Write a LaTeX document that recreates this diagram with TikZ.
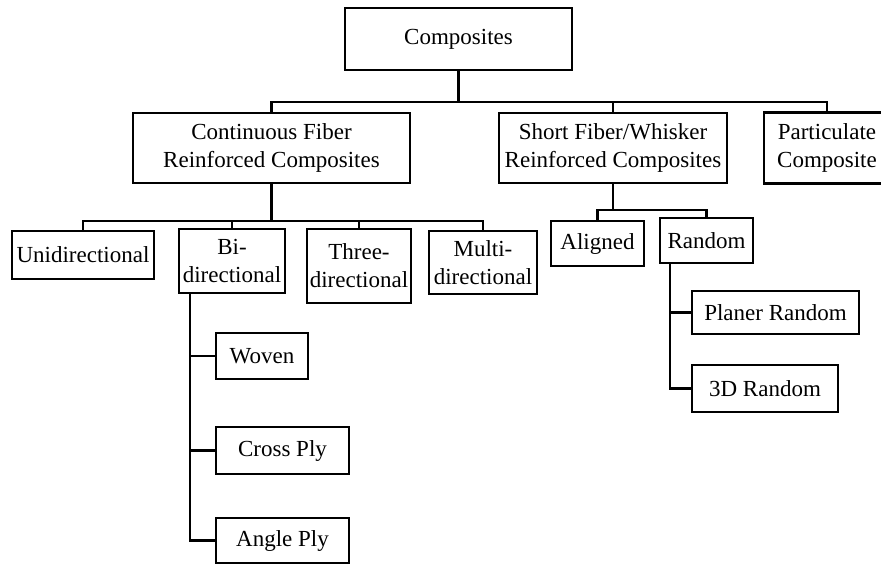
\documentclass[tikz,border=0pt]{standalone}
\usepackage{fontspec}
\setmainfont{Liberation Serif}
\begin{document}
\begin{tikzpicture}[x=1pt,y=-1pt,
  box/.style={draw=black, line width=2.7pt, fill=white, inner sep=0pt, align=center,
    font=\fontsize{23}{28}\selectfont},
  conn/.style={draw=black, line width=2.6pt, line cap=rect}]
\useasboundingbox[fill=white] (0,0) rectangle (881,565);
% level 0
\node[box, minimum width=227pt, minimum height=62pt] (comp) at (458.5,39) {Composites};
% level 1
\node[box, minimum width=277pt, minimum height=70pt] (cont) at (271.5,148) {Continuous Fiber\\Reinforced Composites};
\node[box, minimum width=228pt, minimum height=70pt] (short) at (613,148) {Short Fiber/Whisker\\Reinforced Composites};
\node[box, minimum width=126pt, minimum height=71pt] (part) at (827,148) {Particulate\\Composite};
% level 2 (continuous)
\node[box, minimum width=142pt, minimum height=48pt] (uni) at (83,255) {Unidirectional};
\node[box, minimum width=106pt, minimum height=64pt] (bi) at (232,261) {Bi-\\directional};
\node[box, minimum width=104pt, minimum height=74pt] (three) at (359,266) {Three-\\directional};
\node[box, minimum width=108pt, minimum height=63pt] (multi) at (483,262.5) {Multi-\\directional};
% level 2 (short fiber)
\node[box, minimum width=93pt, minimum height=45pt] (aligned) at (597.5,243.5) {Aligned};
\node[box, minimum width=93pt, minimum height=45pt] (random) at (706.5,240.5) {Random};
% level 3
\node[box, minimum width=167pt, minimum height=43pt] (planer) at (775.5,312.5) {Planer Random};
\node[box, minimum width=146pt, minimum height=47pt] (rand3d) at (765,388.5) {3D Random};
\node[box, minimum width=92pt, minimum height=46pt] (woven) at (262,356) {Woven};
\node[box, minimum width=133pt, minimum height=47pt] (cross) at (282.5,450.5) {Cross Ply};
\node[box, minimum width=133pt, minimum height=45pt] (angle) at (282.5,540.5) {Angle Ply};
% junction coordinates
\coordinate (j0) at (458.5,102);
\coordinate (j1) at (271.5,221);
\coordinate (j2) at (613,210);
\coordinate (bv) at (190,0);
\coordinate (rv) at (670,0);
% connectors level 0 -> 1
\draw[conn] (comp.south) -- (j0);
\draw[conn] (cont.north) -- (cont.north |- j0) -- (part.north |- j0) -- (part.north);
\draw[conn] (short.north) -- (short.north |- j0);
% continuous -> children
\draw[conn] (cont.south) -- (j1);
\draw[conn] (uni.north) -- (uni.north |- j1) -- (multi.north |- j1) -- (multi.north);
\draw[conn] (bi.north) -- (bi.north |- j1);
\draw[conn] (three.north) -- (three.north |- j1);
% short -> children
\draw[conn] (short.south) -- (j2);
\draw[conn] (aligned.north) -- (aligned.north |- j2) -- (random.north |- j2) -- (random.north);
% bi-directional -> sub
\draw[conn] (bi.south -| bv) -- (angle.west -| bv) -- (angle.west);
\draw[conn] (woven.west -| bv) -- (woven.west);
\draw[conn] (cross.west -| bv) -- (cross.west);
% random -> sub
\draw[conn] (random.south -| rv) -- (rand3d.west -| rv) -- (rand3d.west);
\draw[conn] (planer.west -| rv) -- (planer.west);
\end{tikzpicture}
\end{document}
